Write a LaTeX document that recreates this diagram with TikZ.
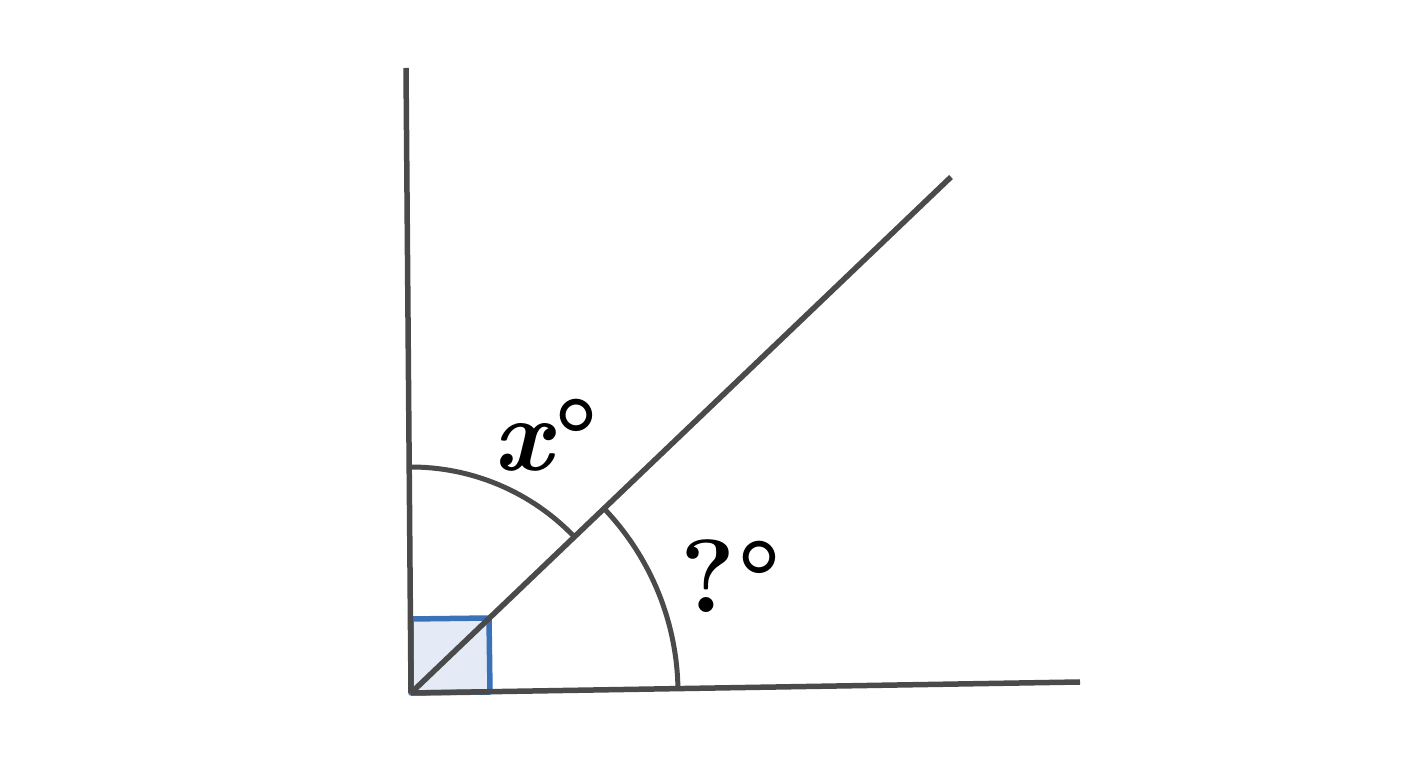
\documentclass[tikz,border=0pt]{standalone}
\usepackage{fontspec}
\definecolor{raygray}{HTML}{4A4A4A}
\definecolor{boxblue}{HTML}{3A72B8}
\definecolor{boxfill}{HTML}{E4EBF7}
\begin{document}
\begin{tikzpicture}[x=1pt,y=1pt,
  ray/.style={draw=raygray, line width=5.5pt},
  arcline/.style={draw=raygray, line width=5pt},
  rightbox/.style={draw=boxblue, fill=boxfill, line width=5.5pt, line join=round},
  lbl/.style={font=\fontsize{104}{104}\selectfont\bfseries, text=black, inner sep=0pt}]
\useasboundingbox[fill=white] (0,0) rectangle (1408,768);
\coordinate (V) at (411,75);
\coordinate (Vt) at (406,700);
\coordinate (Hr) at (1080,86);
\coordinate (Dg) at (951,591);
\coordinate (S1) at (411,149);
\coordinate (S2) at (489,150);
\coordinate (S3) at (490,76);
\draw[rightbox] (V) -- (S1) -- (S2) -- (S3) -- cycle;
\draw[ray] (V) -- (Vt);
\draw[ray] (V) -- (Hr);
\draw[ray] (V) -- (Dg);
\draw[arcline] ([shift={(90.5:226)}]V) arc[start angle=90.5, end angle=43.7, radius=226];
\draw[arcline] ([shift={(43.7:267)}]V) arc[start angle=43.7, end angle=1, radius=267];
\node[lbl] (xl) at (546,333) {{\itshape x}\kern2pt°};
\node[lbl] (ql) at (731,192) {?\kern2pt°};
\end{tikzpicture}
\end{document}
